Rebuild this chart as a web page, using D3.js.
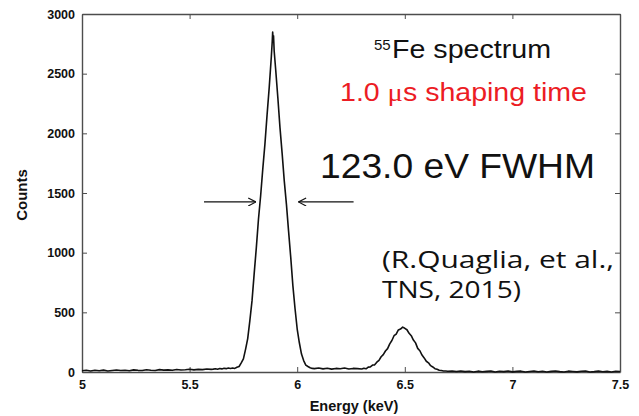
<!DOCTYPE html>
<html><head><meta charset="utf-8">
<script src="https://cdn.jsdelivr.net/npm/d3@7"></script>
<style>html,body{margin:0;padding:0;background:#fff;} svg{display:block;}</style>
</head><body><svg id="chart" width="639" height="416"></svg>
<script>
// ---- data ----
const energyKeV = [
  5.00,5.02,5.04,5.06,5.08,5.10,5.12,5.14,5.16,5.18,5.20,5.22,5.24,5.26,5.28,5.30,
  5.32,5.34,5.36,5.38,5.40,5.42,5.44,5.46,5.48,5.50,5.52,5.54,5.56,5.58,5.60,
  5.61,5.62,5.63,5.64,5.65,5.66,5.67,5.68,5.69,5.70,5.71,5.72,5.73,5.74,5.75,5.76,
  5.77,5.78,5.79,5.80,5.81,5.82,5.83,5.84,5.85,5.86,5.87,
  5.880,5.884,5.886,5.888,5.890,5.893,
  5.90,5.91,5.92,5.93,5.94,5.95,5.96,5.97,5.98,5.99,6.00,6.01,6.02,6.03,6.04,6.05,6.06,6.07,
  6.08,6.10,6.12,6.14,6.16,6.18,6.20,6.22,6.24,6.26,6.28,
  6.30,6.31,6.32,6.33,6.34,6.35,6.36,6.37,6.38,6.39,6.40,6.41,6.42,6.43,6.44,6.45,
  6.46,6.47,6.48,6.49,6.50,6.51,6.52,6.53,6.54,6.55,6.56,6.57,6.58,6.59,6.60,6.61,
  6.62,6.63,6.64,6.65,6.66,6.67,6.68,6.69,6.70,
  6.72,6.74,6.76,6.78,6.80,6.82,6.84,6.86,6.88,6.90,6.92,6.94,6.96,6.98,7.00,7.02,
  7.04,7.06,7.08,7.10,7.12,7.14,7.16,7.18,7.20,7.22,7.24,7.26,7.28,7.30,7.32,7.34,
  7.36,7.38,7.40,7.42,7.44,7.46,7.48,7.50
];
const counts = [
  10,14,8,15,11,16,9,13,17,12,15,10,18,14,12,19,
  15,13,20,16,18,14,21,17,19,23,18,22,20,25,22,
  24,27,23,29,26,31,28,33,30,34,30,40,46,76,110,190,
  280,430,596,822,1040,1280,1475,1700,1910,2155,2385,
  2648,2770,2848,2785,2818,2690,
  2535,2300,2048,1832,1600,1405,1178,960,722,530,360,245,150,96,58,46,36,30,
  28,34,26,31,24,30,27,33,25,30,28,
  25,32,27,41,43,58,60,82,98,128,146,176,196,236,264,304,
  318,352,360,376,366,354,324,304,268,244,198,178,142,118,90,77,
  53,42,28,23,14,12,9,8,6,
  8,4,9,3,6,0,7,2,5,8,0,6,3,9,1,5,
  7,0,4,8,2,6,0,5,9,3,0,7,4,1,6,8,
  0,3,7,2,5,0,6,4
];
const xTicks = [5, 5.5, 6, 6.5, 7, 7.5];
const xTickLabels = ["5", "5.5", "6", "6.5", "7", "7.5"];
const yTicks = [0, 500, 1000, 1500, 2000, 2500, 3000];
const yTickLabels = ["0", "500", "1000", "1500", "2000", "2500", "3000"];
const xTitle = "Energy (keV)";
const yTitle = "Counts";
// FWHM arrows: [tail energy, tip energy] at the half-maximum level
const fwhmLevel = 1425;
const arrowLeft = [5.567, 5.808];
const arrowRight = [6.262, 6.006];

// ---- layout ----
const W = 639, H = 416;
const m = {left: 82, right: 19, top: 14, bottom: 44};
const svg = d3.select("#chart");
const x = d3.scaleLinear().domain([5, 7.5]).range([m.left, W - m.right]);
const y = d3.scaleLinear().domain([0, 3000]).range([H - m.bottom, m.top]);
const axisColor = "#4d4d4d";
const tickFont = "'Liberation Sans', Arial, sans-serif";

function styleAxis(g) {
  g.select(".domain").attr("stroke", axisColor).attr("stroke-width", 1.4);
  g.selectAll(".tick line").attr("stroke", axisColor).attr("stroke-width", 1);
  g.selectAll(".tick text").attr("fill", "#111").attr("font-weight", "bold")
    .attr("font-size", 12.5).attr("font-family", tickFont);
}

// bottom
svg.append("g").attr("transform", `translate(0,${y(0)})`)
  .call(d3.axisBottom(x).tickValues(xTicks).tickFormat((d, i) => xTickLabels[i])
    .tickSize(-5).tickSizeOuter(0).tickPadding(8))
  .call(styleAxis);
// top
svg.append("g").attr("transform", `translate(0,${y(3000)})`)
  .call(d3.axisTop(x).tickValues(xTicks).tickFormat("").tickSize(-5).tickSizeOuter(0))
  .call(styleAxis);
// left
svg.append("g").attr("transform", `translate(${x(5)},0)`)
  .call(d3.axisLeft(y).tickValues(yTicks).tickFormat((d, i) => yTickLabels[i])
    .tickSize(-5).tickSizeOuter(0).tickPadding(7))
  .call(styleAxis);
// right
svg.append("g").attr("transform", `translate(${x(7.5)},0)`)
  .call(d3.axisRight(y).tickValues(yTicks).tickFormat("").tickSize(-5).tickSizeOuter(0))
  .call(styleAxis);

// axis titles
svg.append("text").attr("x", (x(5) + x(7.5)) / 2 + 3).attr("y", 411)
  .attr("text-anchor", "middle").attr("font-family", tickFont).attr("font-weight", "bold")
  .attr("font-size", 14.5).attr("fill", "#111").text(xTitle);
svg.append("text").attr("transform", `translate(27,${(y(0) + y(3000)) / 2 + 2}) rotate(-90)`)
  .attr("text-anchor", "middle").attr("font-family", tickFont).attr("font-weight", "bold")
  .attr("font-size", 15).attr("fill", "#111").text(yTitle);

// spectrum line
const pts = energyKeV.map((e, i) => [e, counts[i]]);
svg.append("path").datum(pts)
  .attr("fill", "none").attr("stroke", "#111").attr("stroke-width", 1.6)
  .attr("stroke-linejoin", "round")
  .attr("d", d3.line().x(d => x(d[0])).y(d => y(d[1])));

// arrows
const defs = svg.append("defs");
defs.append("marker").attr("id", "arr").attr("viewBox", "0 0 10 10")
  .attr("refX", 9.5).attr("refY", 5).attr("markerWidth", 9).attr("markerHeight", 9)
  .attr("markerUnits", "userSpaceOnUse").attr("orient", "auto")
  .append("path").attr("d", "M1,0.5 L9.5,5 L1,9.5").attr("fill", "none")
  .attr("stroke", "#111").attr("stroke-width", 1.3);
[arrowLeft, arrowRight].forEach(a => {
  svg.append("line").attr("x1", x(a[0])).attr("x2", x(a[1]))
    .attr("y1", y(fwhmLevel)).attr("y2", y(fwhmLevel))
    .attr("stroke", "#111").attr("stroke-width", 1.3).attr("marker-end", "url(#arr)");
});

// annotations
const ann = "'Liberation Sans', Arial, sans-serif";
svg.append("text").attr("x", 374).attr("y", 50).attr("font-family", ann)
  .attr("font-size", 15).attr("fill", "#111").text("55");
svg.append("text").attr("x", 392).attr("y", 58).attr("font-family", ann)
  .attr("font-size", 25).attr("fill", "#111")
  .attr("textLength", 159).attr("lengthAdjust", "spacingAndGlyphs").text("Fe spectrum");
const red = svg.append("text").attr("x", 340).attr("y", 101).attr("font-family", ann)
  .attr("font-size", 25).attr("fill", "#ec1c24")
  .attr("textLength", 247).attr("lengthAdjust", "spacingAndGlyphs");
red.append("tspan").text("1.0 ");
red.append("tspan").attr("font-family", "'Liberation Serif', serif").text("μ");
red.append("tspan").text("s shaping  time");
svg.append("text").attr("x", 320).attr("y", 178).attr("font-family", ann)
  .attr("font-size", 35).attr("fill", "#111")
  .attr("textLength", 275).attr("lengthAdjust", "spacingAndGlyphs").text("123.0 eV FWHM");
const comic = "'Open Sans', 'DejaVu Sans', sans-serif";
svg.append("text").attr("x", 382).attr("y", 268).attr("font-family", comic)
  .attr("font-size", 23).attr("fill", "#111")
  .attr("textLength", 232).attr("lengthAdjust", "spacingAndGlyphs").text("(R.Quaglia, et al.,");
svg.append("text").attr("x", 382).attr("y", 298).attr("font-family", comic)
  .attr("font-size", 23).attr("fill", "#111")
  .attr("textLength", 139).attr("lengthAdjust", "spacingAndGlyphs").text("TNS, 2015)");
</script></body></html>
